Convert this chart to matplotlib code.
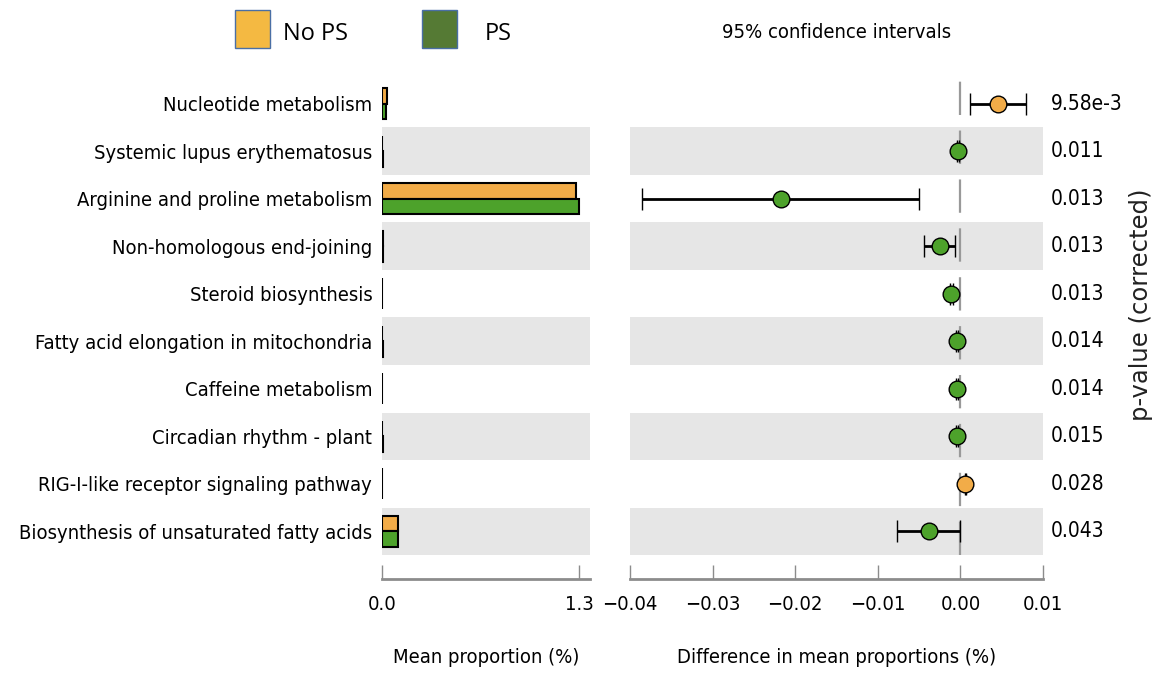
import matplotlib
matplotlib.use("Agg")
import matplotlib.pyplot as plt
from matplotlib import font_manager
from matplotlib.patches import Rectangle

# data
pathways = ["Nucleotide metabolism",
            "Systemic lupus erythematosus",
            "Arginine and proline metabolism",
            "Non-homologous end-joining",
            "Steroid biosynthesis",
            "Fatty acid elongation in mitochondria",
            "Caffeine metabolism",
            "Circadian rhythm - plant",
            "RIG-I-like receptor signaling pathway",
            "Biosynthesis of unsaturated fatty acids"]
mean_nops = [0.030, 0.003, 1.278, 0.004, 0.002, 0.003, 0.002, 0.003, 0.002, 0.105]
mean_ps = [0.026, 0.004, 1.300, 0.006, 0.003, 0.004, 0.003, 0.004, 0.001, 0.103]
diff = [0.0045, -0.0003, -0.0217, -0.0025, -0.0011, -0.0004, -0.0004, -0.0004, 0.0006, -0.0038]
ci_low = [0.0012, -0.0004, -0.0385, -0.0044, -0.0013, -0.0005, -0.0005, -0.0005, 0.0005, -0.0077]
ci_high = [0.0079, -0.0002, -0.0050, -0.0006, -0.0009, -0.0003, -0.0003, -0.0003, 0.0007, -0.0001]
pvalues = ["9.58e-3", "0.011", "0.013", "0.013", "0.013", "0.014", "0.014", "0.015", "0.028", "0.043"]

c_nops = "#F2AC48"
c_ps = "#4DA22B"
c_band = "#E6E6E6"
c_spine = "#8C8C8C"

# condensed DejaVu if the file is there, else plain
fp = font_manager.FontProperties(family="DejaVu Sans", stretch="condensed")
cond = "Condensed" in font_manager.findfont(fp)
fs = 14.5 if cond else 13
tfont = dict(family="DejaVu Sans", stretch="condensed" if cond else "normal", size=fs)

fig = plt.figure(figsize=(11.56, 6.73), dpi=100)
W, H = 1156, 673
ax1 = fig.add_axes([382 / W, 1 - 555 / H, 208 / W, 475 / H])
ax2 = fig.add_axes([630 / W, 1 - 555 / H, 413 / W, 475 / H])

n = len(pathways)
ypos = list(range(n))

for ax in (ax1, ax2):
    for i in ypos:
        if i % 2 == 1:
            ax.axhspan(i - 0.5, i + 0.5, color=c_band, lw=0, zorder=0)
    ax.set_ylim(n - 0.5, -0.5)
    for s in ("top", "right", "left"):
        ax.spines[s].set_visible(False)
    ax.spines["bottom"].set_position(("outward", 17))
    ax.spines["bottom"].set_color(c_spine)
    ax.spines["bottom"].set_linewidth(2)
    ax.tick_params(axis="x", direction="in", length=10, width=1, color=c_spine, pad=12)
    ax.tick_params(axis="y", length=0)

# left panel: mean proportions
bh = 0.33
ax1.barh([y - bh / 2 for y in ypos], mean_nops, height=bh, color=c_nops, edgecolor="black", lw=1.5, zorder=2)
ax1.barh([y + bh / 2 for y in ypos], mean_ps, height=bh, color=c_ps, edgecolor="black", lw=1.5, zorder=2)
ax1.set_xlim(0, 1.373)
ax1.set_xticks([0, 1.3])
ax1.set_xticklabels(["0.0", "1.3"], **tfont)
ax1.set_yticks(ypos)
ax1.set_yticklabels(pathways, **tfont)
ax1.tick_params(axis="y", pad=7)
ax1.set_xlabel("Mean proportion (%)", labelpad=24, **tfont)

# right panel: difference with 95% CI
ax2.axvline(0, color="#999999", lw=1.6, ls=(0, (15, 7)), zorder=1)
for i in ypos:
    col = c_nops if diff[i] > 0 else c_ps
    ax2.errorbar(diff[i], i, xerr=[[diff[i] - ci_low[i]], [ci_high[i] - diff[i]]],
                 fmt="o", color="black", ecolor="black", elinewidth=2, capsize=8, capthick=1.2,
                 mfc=col, mec="black", mew=1, ms=12, zorder=3)
ax2.set_xlim(-0.04, 0.01)
ax2.set_xticks([-0.04, -0.03, -0.02, -0.01, 0.0, 0.01])
ax2.set_xticklabels(["\u22120.04", "\u22120.03", "\u22120.02", "\u22120.01", "0.00", "0.01"], **tfont)
ax2.set_yticks([])
ax2.set_xlabel("Difference in mean proportions (%)", labelpad=24, **tfont)
ax2.set_title("95% confidence intervals", pad=30, **tfont)

# p-values on the right
for i in ypos:
    ax2.text(1.018, i, pvalues[i], transform=ax2.get_yaxis_transform(), ha="left", va="center",
             family=tfont["family"], stretch=tfont["stretch"], size=fs + 0.5)
fig.text(1141 / W, 1 - 305 / H, "p-value (corrected)", rotation=90, ha="center", va="center",
         family="DejaVu Sans", size=17.5, color="#222222")

# legend boxes at the top
fig.add_artist(Rectangle((235 / W, 1 - 48 / H), 35 / W, 38 / H, transform=fig.transFigure,
                         facecolor="#F4B942", edgecolor="#4A6FA5", lw=1))
fig.text(283 / W, 1 - 34 / H, "No PS", ha="left", va="center", family="Open Sans", size=17)
fig.add_artist(Rectangle((422 / W, 1 - 48 / H), 35 / W, 38 / H, transform=fig.transFigure,
                         facecolor="#557A34", edgecolor="#4A6FA5", lw=1))
fig.text(485 / W, 1 - 34 / H, "PS", ha="left", va="center", family="Open Sans", size=17)

fig.savefig("out.png", dpi=100)
